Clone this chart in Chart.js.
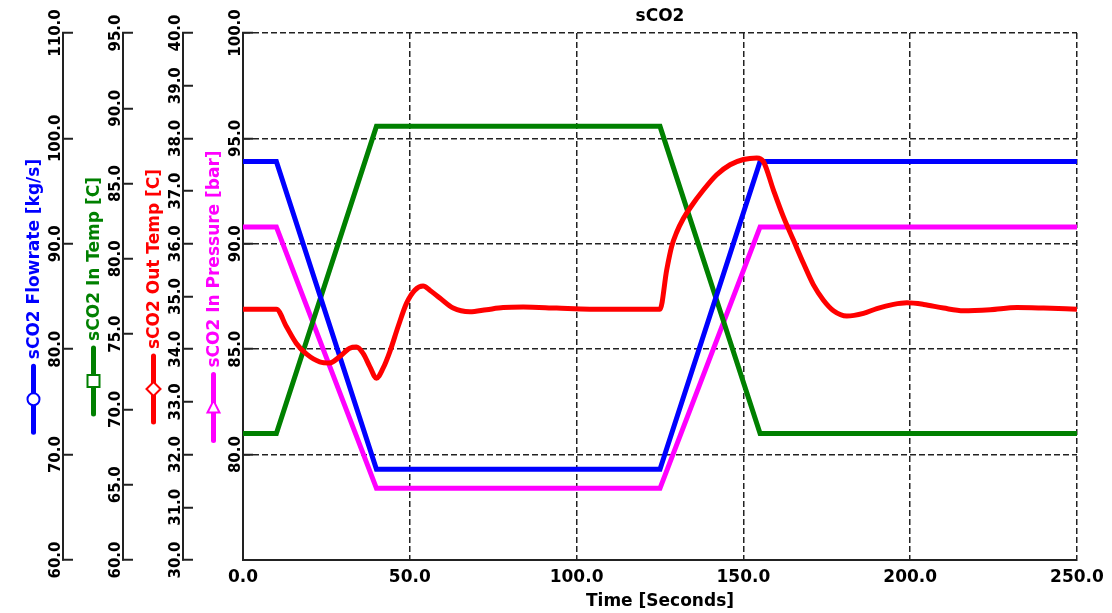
<!DOCTYPE html>
<html>
<head>
<meta charset="utf-8">
<script src="https://cdn.jsdelivr.net/npm/chart.js@4.4.1/dist/chart.umd.min.js"></script>
<style>
  html, body { margin: 0; padding: 0; background: #fff; }
  #wrap { width: 1112px; height: 613px; }
</style>
</head>
<body>
<div id="wrap"><canvas id="chart"></canvas></div>
<script>
// ramp series share the same break points
const rampTime = [0, 10, 40, 125, 155, 250];
const flowrate = [97.8, 97.8, 68.6, 68.6, 97.8, 97.8];
const inTemp = [68.4, 68.4, 88.8, 88.8, 68.4, 68.4];
const inPressure = [90.8, 90.8, 78.4, 78.4, 90.8, 90.8];

// outlet temperature response
const outTime = [0, 10, 13, 16, 19, 23, 26, 29, 32, 34,
  36, 38, 40, 42, 44, 46.5, 49, 51.5, 54, 56,
  59, 63, 68, 73, 78, 84, 94, 104, 125, 127,
  128.5, 130, 132, 134, 138, 142, 146, 150, 154, 156,
  159, 162, 165, 168, 171, 174, 177, 181, 186, 190,
  195, 199, 204, 210, 216, 224, 232, 240, 250];
const outTemp = [34.76, 34.76, 34.43, 34.11, 33.91, 33.76, 33.74, 33.86, 34.02, 34.04,
  33.92, 33.67, 33.45, 33.64, 33.95, 34.43, 34.87, 35.12, 35.20, 35.12,
  34.97, 34.78, 34.71, 34.75, 34.79, 34.80, 34.78, 34.76, 34.76, 35.50,
  35.95, 36.22, 36.48, 36.68, 37.02, 37.31, 37.50, 37.60, 37.63, 37.56,
  37.02, 36.51, 36.07, 35.63, 35.22, 34.93, 34.73, 34.63, 34.68, 34.77,
  34.85, 34.88, 34.85, 34.78, 34.73, 34.75, 34.79, 34.78, 34.76];

// axis ranges [min, max, step]
const flowRange = [60, 110, 10];
const inTempRange = [60, 95, 5];
const outTempRange = [30, 40, 1];
const pressRange = [75, 100, 5];
const timeRange = [0, 250, 50];

const FONT = '"DejaVu Sans", Verdana, sans-serif';
const AXIS = '#222';

const toXY = (xs, ys) => xs.map((x, i) => ({ x: x, y: ys[i] }));

// tick padding so rotated labels sit 7px left of the axis line
const measure = document.createElement('canvas').getContext('2d');
measure.font = 'bold 15px ' + FONT;
const padFor = (range) => 17 - measure.measureText(range[1].toFixed(1)).width / 2;

function yAxis(range, weight, grid, hideMin) {
    return {
        type: 'linear',
        position: 'left',
        weight: weight,
        min: range[0],
        max: range[1],
        afterFit: (s) => { s.width = 60; },
        ticks: {
            stepSize: range[2],
            minRotation: 90,
            maxRotation: 90,
            crossAlign: 'center',
            padding: padFor(range),
            color: '#000',
            font: { size: 15, weight: 'bold', family: FONT },
            callback: (v) => (hideMin && v === range[0]) ? null : v.toFixed(1),
        },
        grid: {
            drawOnChartArea: grid,
            drawTicks: true,
            tickLength: -10,
            tickWidth: 2,
            tickColor: AXIS,
            tickBorderDash: [],
            color: AXIS,
            lineWidth: 1.5,
        },
        border: { display: true, color: AXIS, width: 2, dash: [6, 3] },
    };
}

// rotated axis titles with their little legend glyphs
const sideTitles = [
    { axis: 'yFlow', text: 'sCO2 Flowrate [kg/s]', color: '#0000ff', marker: 'circle' },
    { axis: 'yIn', text: 'sCO2 In Temp [C]', color: '#008000', marker: 'square' },
    { axis: 'yOut', text: 'sCO2 Out Temp [C]', color: '#ff0000', marker: 'diamond' },
    { axis: 'yPress', text: 'sCO2 In Pressure [bar]', color: '#ff00ff', marker: 'triangle' },
];

const sideTitlePlugin = {
    id: 'sideTitles',
    afterDraw(chart) {
        const ctx = chart.ctx;
        const area = chart.chartArea;
        const mid = (area.top + area.bottom) / 2;
        const glyph = 70, gap = 5;
        ctx.save();
        ctx.font = 'bold 17px ' + FONT;
        sideTitles.forEach((t) => {
            const line = chart.scales[t.axis].right;
            const w = ctx.measureText(t.text).width;
            const bottom = mid + (w + gap + glyph) / 2;

            ctx.save();
            ctx.translate(line - 24, bottom - glyph - gap);
            ctx.rotate(-Math.PI / 2);
            ctx.fillStyle = t.color;
            ctx.textAlign = 'left';
            ctx.textBaseline = 'alphabetic';
            ctx.fillText(t.text, 0, 0);
            ctx.restore();

            // glyph: thick line with marker in the middle
            const gx = line - 29.5;
            const gy = bottom - glyph / 2;
            ctx.strokeStyle = t.color;
            ctx.lineCap = 'round';
            ctx.lineWidth = 5;
            ctx.beginPath();
            ctx.moveTo(gx, bottom - glyph + 2);
            ctx.lineTo(gx, bottom - 2);
            ctx.stroke();

            ctx.lineWidth = 2;
            ctx.fillStyle = '#fff';
            ctx.beginPath();
            if (t.marker === 'circle') {
                ctx.arc(gx, gy, 6, 0, Math.PI * 2);
            } else if (t.marker === 'square') {
                ctx.rect(gx - 6, gy - 6, 12, 12);
            } else if (t.marker === 'diamond') {
                ctx.moveTo(gx, gy - 7); ctx.lineTo(gx + 7, gy);
                ctx.lineTo(gx, gy + 7); ctx.lineTo(gx - 7, gy);
                ctx.closePath();
            } else {
                ctx.moveTo(gx, gy - 7); ctx.lineTo(gx + 6, gy + 5);
                ctx.lineTo(gx - 6, gy + 5); ctx.closePath();
            }
            ctx.fill();
            ctx.stroke();
        });
        ctx.restore();
    },
};

const lineStyle = { borderWidth: 5, pointRadius: 0, fill: false, tension: 0 };

new Chart(document.getElementById('chart'), {
    type: 'line',
    data: {
        datasets: [
            Object.assign({ label: 'sCO2 Out Temp [C]', data: toXY(outTime, outTemp), borderColor: '#ff0000',
                yAxisID: 'yOut', cubicInterpolationMode: 'monotone', order: 0 }, lineStyle, { tension: 0.4 }),
            Object.assign({ label: 'sCO2 Flowrate [kg/s]', data: toXY(rampTime, flowrate), borderColor: '#0000ff',
                yAxisID: 'yFlow', order: 1 }, lineStyle),
            Object.assign({ label: 'sCO2 In Temp [C]', data: toXY(rampTime, inTemp), borderColor: '#008000',
                yAxisID: 'yIn', order: 1 }, lineStyle),
            Object.assign({ label: 'sCO2 In Pressure [bar]', data: toXY(rampTime, inPressure), borderColor: '#ff00ff',
                yAxisID: 'yPress', order: 1 }, lineStyle),
        ],
    },
    options: {
        responsive: true,
        maintainAspectRatio: false,
        animation: false,
        devicePixelRatio: 1,
        layout: { padding: { left: 3, right: 35, top: 0, bottom: 0 } },
        plugins: {
            legend: { display: false },
            tooltip: { enabled: false },
            title: {
                display: true,
                text: 'sCO2',
                fullSize: false,
                color: '#000',
                font: { size: 17, weight: 'bold', family: FONT },
                padding: { top: 6, bottom: 6.6 },
            },
        },
        scales: {
            x: {
                type: 'linear',
                min: timeRange[0],
                max: timeRange[1],
                afterFit: (s) => { s.height = 53; },
                ticks: {
                    stepSize: timeRange[2],
                    padding: 7,
                    maxRotation: 0,
                    color: '#000',
                    font: { size: 17, weight: 'bold', family: FONT },
                    callback: (v) => v.toFixed(1),
                },
                grid: { drawTicks: false, color: AXIS, lineWidth: 1.5 },
                border: { display: true, color: AXIS, width: 2, dash: [6, 3] },
                title: {
                    display: true,
                    text: 'Time [Seconds]',
                    color: '#000',
                    font: { size: 17, weight: 'bold', family: FONT },
                    padding: { top: 0, bottom: 1 },
                },
            },
            yFlow: yAxis(flowRange, 4, false, false),
            yIn: yAxis(inTempRange, 3, false, false),
            yOut: yAxis(outTempRange, 2, false, false),
            yPress: yAxis(pressRange, 1, true, true),
        },
    },
    plugins: [sideTitlePlugin],
});
</script>
</body>
</html>
